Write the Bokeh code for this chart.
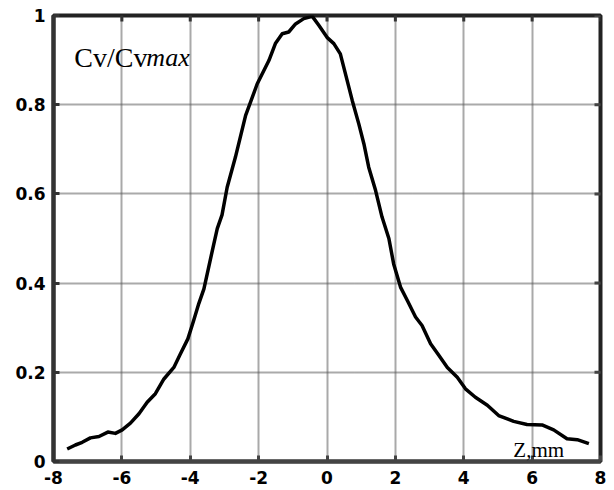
from bokeh.plotting import figure
from bokeh.models import LinearAxis, FixedTicker, Label, Range1d, Grid
from bokeh.embed import file_html
from bokeh.resources import INLINE

# Data (Z in mm, normalised Cv/Cvmax)
z_mm = [-7.60, -7.36, -7.16, -6.92, -6.67, -6.41, -6.19, -5.99, -5.75, -5.50,
        -5.26, -5.02, -4.77, -4.48, -4.29, -4.07, -3.90, -3.75, -3.60, -3.46,
        -3.31, -3.21, -3.07, -2.92, -2.68, -2.38, -2.04, -1.70, -1.51, -1.31,
        -1.12, -0.92, -0.68, -0.43, -0.24, 0.00, 0.20, 0.39, 0.54, 0.74,
        0.93, 1.08, 1.22, 1.42, 1.61, 1.81, 1.95, 2.15, 2.35, 2.59,
        2.78, 3.03, 3.27, 3.52, 3.81, 4.05, 4.34, 4.69, 5.02, 5.46,
        5.85, 6.29, 6.63, 7.02, 7.32, 7.66]
cv_ratio = [0.028, 0.037, 0.043, 0.053, 0.056, 0.066, 0.063, 0.071, 0.086, 0.107,
            0.133, 0.152, 0.185, 0.211, 0.241, 0.275, 0.316, 0.354, 0.387, 0.436,
            0.488, 0.522, 0.553, 0.615, 0.682, 0.776, 0.847, 0.899, 0.937, 0.959,
            0.963, 0.981, 0.993, 0.998, 0.978, 0.951, 0.937, 0.914, 0.869, 0.809,
            0.757, 0.712, 0.660, 0.608, 0.548, 0.500, 0.443, 0.391, 0.361, 0.324,
            0.305, 0.264, 0.238, 0.211, 0.189, 0.163, 0.144, 0.126, 0.103, 0.090,
            0.083, 0.082, 0.071, 0.051, 0.049, 0.040]

x_ticks = [-8, -6, -4, -2, 0, 2, 4, 6, 8]
x_tick_labels = ["-8", "-6", "-4", "-2", "0", "2", "4", "6", "8"]
y_ticks = [0, 0.2, 0.4, 0.6, 0.8, 1]
y_tick_labels = ["0", "0.2", "0.4", "0.6", "0.8", "1"]

y_label_main = "Cv/Cv"
y_label_italic = "max"
x_label = "Z,mm"

p = figure(width=614, height=490, output_backend="svg", toolbar_location=None,
           x_range=Range1d(-8, 8), y_range=Range1d(0, 1),
           min_border_left=53, min_border_right=14, min_border_top=15,
           min_border_bottom=29)
p.xaxis.visible = False
p.yaxis.visible = False
p.xgrid.visible = False
p.ygrid.visible = False
p.outline_line_color = "#222222"
p.outline_line_width = 4

gx = Grid(dimension=0, ticker=FixedTicker(ticks=x_ticks[1:-1]))
gy = Grid(dimension=1, ticker=FixedTicker(ticks=y_ticks[1:-1]))
for g in (gx, gy):
    g.grid_line_color = "#555555"
    g.grid_line_width = 2
    g.grid_line_dash = "1 1"
    p.add_layout(g)


def style_axis(ax, ticks, labels, standoff, color):
    ax.ticker = FixedTicker(ticks=ticks)
    ax.major_label_overrides = {t: l for t, l in zip(ticks, labels)}
    ax.axis_line_color = color
    ax.axis_line_width = 4
    ax.major_tick_in = 6
    ax.major_tick_out = 0
    ax.major_tick_line_width = 3
    ax.major_tick_line_color = color
    ax.minor_tick_line_color = None
    ax.major_label_text_font = "DejaVu Sans"
    ax.major_label_text_font_style = "bold"
    ax.major_label_text_font_size = "17px"
    ax.major_label_text_color = "black"
    ax.major_label_standoff = standoff


xb = LinearAxis()
style_axis(xb, x_ticks, x_tick_labels, 9, "#444444")
p.add_layout(xb, "below")

yl = LinearAxis()
style_axis(yl, y_ticks, y_tick_labels, 8, "#333333")
p.add_layout(yl, "left")

# inward tick marks on the top and right edges
p.scatter(x=x_ticks, y=[y_ticks[-1]] * len(x_ticks), marker="dash", angle=1.5708,
          size=12, line_color="#333333", line_width=3)
p.scatter(x=[x_ticks[-1]] * len(y_ticks), y=y_ticks, marker="dash",
          size=12, line_color="#444444", line_width=3)

p.line(z_mm, cv_ratio, line_color="black", line_width=3.5, line_join="round")

lab1 = Label(x=-7.39, y=0.906, text=y_label_main, text_font="Liberation Serif",
             text_font_size="28px", text_color="black", text_baseline="alphabetic")
lab2 = Label(x=-7.39, y=0.906, x_offset=72, text=y_label_italic,
             text_font="Liberation Serif", text_font_style="italic",
             text_font_size="26px", text_color="black", text_baseline="alphabetic")
lab3 = Label(x=5.45, y=0.026, text=x_label, text_font="Liberation Serif",
             text_font_size="21px", text_color="black", text_baseline="alphabetic")
p.add_layout(lab1)
p.add_layout(lab2)
p.add_layout(lab3)

open("out.html", "w").write(file_html(p, INLINE))
